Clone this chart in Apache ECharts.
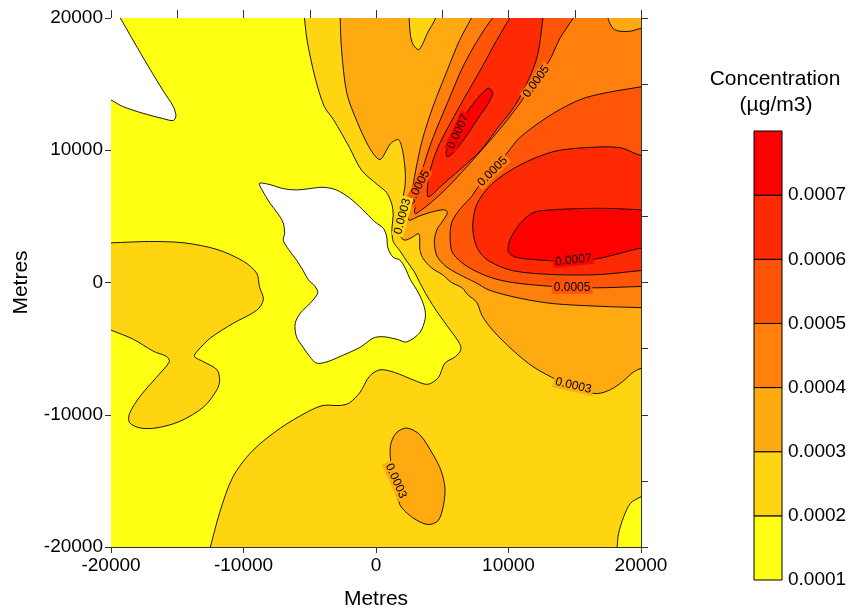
<!DOCTYPE html>
<html>
<head>
<meta charset="utf-8">
<script src="https://cdn.jsdelivr.net/npm/echarts@6/dist/echarts.min.js"></script>
<style>html,body{margin:0;padding:0;background:#fff}#c{width:853px;height:615px}</style>
</head>
<body>
<div id="c"></div>
<script>
// ---------- DATA ----------
// contour levels (µg/m3)
const levels = [0.0001, 0.0002, 0.0003, 0.0004, 0.0005, 0.0006, 0.0007, 0.0008];
const levelLabels = ['0.0001', '0.0002', '0.0003', '0.0004', '0.0005', '0.0006', '0.0007'];
const axisTicks = [-20000, -10000, 0, 10000, 20000];

// contour regions (vertices in metres)
// whole domain (>= 0.0001)
const domainAll = [[-21000,21000],[21000,21000],[21000,-21000],[-21000,-21000]];
// < 0.0001
const whiteTopLeft = [[-21000,21500],[-20000,21200],[-19300,20000],[-17600,17050],[-16100,14550],[-15300,13300],[-15100,12600],[-15300,12250],[-16100,12400],[-17600,12800],[-19100,13300],[-20000,13800],[-21000,14200]];
const whiteBlob = [[-8800,7500],[-8000,7400],[-7000,7100],[-6000,7000],[-5000,7100],[-4000,7200],[-3000,7000],[-2000,6400],[-1000,5500],[-100,4600],[550,4100],[800,3500],[900,2600],[1300,1900],[1800,1700],[2200,1100],[2600,200],[3100,-600],[3450,-1300],[3700,-2100],[3700,-2800],[3300,-3800],[2300,-4500],[1600,-4300],[550,-4100],[-200,-4200],[-1200,-4900],[-2500,-5500],[-3700,-6000],[-4500,-6100],[-5000,-5600],[-5500,-4900],[-6000,-4100],[-6100,-3100],[-5700,-2300],[-5000,-1600],[-4400,-800],[-4600,-300],[-5100,200],[-5500,900],[-6000,1700],[-6600,2500],[-7000,3200],[-6900,3700],[-7000,4500],[-7400,5200],[-8000,6000],[-8600,7000]];
// >= 0.0002
const l2Left = [[-21000,3000],[-20000,3000],[-17100,3100],[-14500,3000],[-12000,2500],[-10000,1600],[-9000,700],[-8800,-300],[-8500,-1300],[-9000,-2100],[-10800,-3100],[-12500,-4200],[-13500,-5200],[-13700,-5600],[-13000,-6000],[-12000,-6600],[-11800,-7400],[-12000,-8100],[-13000,-9400],[-14800,-10500],[-16600,-11000],[-17800,-11000],[-18600,-10600],[-18600,-9900],[-17800,-8600],[-16600,-7200],[-15600,-6000],[-15800,-5600],[-16800,-5200],[-18300,-4300],[-20000,-3600],[-21000,-3200]];
const l2Main = [[-5500,21000],[21000,21000],[21000,-15800],[20000,-16200],[19200,-16700],[18700,-17700],[18300,-19000],[18200,-20000],[18100,-21000],[-12800,-21000],[-12500,-20000],[-11800,-17400],[-10800,-14700],[-9300,-12700],[-7200,-11000],[-5200,-9800],[-4000,-9300],[-2700,-9300],[-2000,-9100],[-1200,-8300],[-500,-7100],[300,-6600],[1400,-6800],[2900,-7400],[3900,-7700],[4700,-7200],[5200,-6100],[6000,-5600],[6400,-5100],[6300,-4600],[5600,-3600],[4600,-2200],[3900,-1100],[3300,0],[2900,800],[2400,1500],[1800,2400],[1300,3100],[1200,4100],[1300,5100],[1200,5900],[800,6800],[100,7400],[-1100,8500],[-2000,10200],[-3200,12300],[-3900,13300],[-4600,15500],[-5200,18300],[-5400,20000]];
// >= 0.0003
const l3Main = [[-2700,21000],[2450,21000],[2500,20000],[2600,18700],[2800,18000],[3200,17600],[3500,18000],[3900,18900],[4500,20000],[4600,21000],[21000,21000],[21000,-6400],[20000,-6500],[19400,-6800],[18600,-7500],[17700,-8100],[16700,-8400],[15000,-8100],[13700,-7400],[11900,-6400],[10300,-5100],[8800,-3600],[8000,-2500],[7600,-1500],[6900,-900],[6500,-400],[5700,0],[5000,600],[4200,1100],[3500,1900],[3300,2600],[3300,3400],[3200,3700],[2700,3400],[2200,3200],[1900,3400],[1800,4300],[1900,5500],[2000,6200],[2200,7400],[2200,8500],[2000,10000],[1700,10800],[1100,10500],[300,9300],[-500,10200],[-1400,12100],[-2200,14300],[-2600,17600],[-2700,20000]];
const l3Ellipse = [[2300,-11000],[1500,-11400],[1100,-12300],[1100,-13400],[1400,-14900],[1800,-16800],[2800,-17800],[3900,-18300],[4700,-18000],[5100,-16800],[5200,-15500],[4900,-14200],[4300,-13000],[3300,-11500]];
// >= 0.0004
const l4Main = [[7700,21000],[7200,20000],[6300,18300],[5400,16100],[4300,13300],[3500,10800],[3000,8500],[2600,6200],[2400,5100],[2500,4700],[3200,5000],[4100,5300],[5100,5500],[5400,5300],[5000,4600],[4600,4000],[4400,3100],[4600,2000],[5300,1200],[6300,600],[7500,0],[8600,-600],[10900,-1200],[13400,-1600],[16900,-1800],[20000,-1900],[21000,-1900],[21000,19000],[20000,19200],[19200,19000],[18400,19000],[17900,19200],[17500,20000],[17400,21000]];
// >= 0.0005
const l5Upper = [[9600,21000],[8800,20000],[7900,18700],[6600,16400],[5400,13600],[4600,11700],[4100,10400],[3500,8500],[3100,6600],[2900,5300],[3000,5200],[4100,6000],[5400,7200],[6900,8800],[8400,10500],[9600,11900],[10900,13600],[12000,15200],[13100,16800],[13900,18500],[14900,20000],[15500,21000]];
const l5Right = [[21000,14900],[20000,14800],[15900,14000],[13400,12800],[10900,11000],[9900,9800],[8800,8400],[7600,7100],[7300,6600],[6300,5500],[5700,4500],[5600,3200],[5800,2200],[6900,1200],[8600,400],[10300,0],[13400,-300],[16700,-400],[20000,-300],[21000,-300]];
// >= 0.0006
const l6Upper = [[10700,21000],[10100,20000],[9100,18300],[7900,16100],[6300,13300],[4800,10500],[4200,8900],[3900,7400],[3900,6500],[4200,6600],[4800,7200],[6300,8500],[7900,10000],[9200,11700],[10500,13400],[11500,15300],[12200,17200],[12600,20000],[12750,21000]];
const l6Right = [[21000,9600],[20000,9600],[18400,10200],[15900,10200],[13400,9900],[10900,8900],[8800,7500],[7600,5900],[7300,4200],[7600,2700],[8400,1700],[10300,900],[13400,600],[16900,600],[20000,900],[21000,900]];
// >= 0.0007
const l7Upper = [[8500,14700],[8800,14300],[8400,13400],[7900,12700],[6900,11200],[6000,10000],[5400,9500],[5300,9900],[5700,10900],[6300,11900],[7100,13200],[7900,14200]];
const l7Right = [[21000,5500],[20000,5500],[17700,5600],[15900,5600],[13400,5500],[11900,5300],[10900,4500],[10100,3200],[10000,2300],[10600,1900],[12400,1700],[14600,1600],[16700,1800],[18400,2200],[20000,2600],[21000,2600]];

// contour labels: x, y (metres), text, angle (deg), band index of label background
const labelX = [6200, 12100, 3200, 2000, 8800, 14900, 14800, 14900, 1500];
const labelY = [11400, 15200, 7200, 5000, 8400, 1700, -400, -7800, -15000];
const labelText = ['0.0007', '0.0005', '0.0005', '0.0003', '0.0005', '0.0007', '0.0005', '0.0003', '0.0003'];
const labelAngle = [65, 54, 63, 75, 45, 6, 0, -13, -66];
const labelBand = [6, 3, 4, 1, 3, 6, 4, 2, 2];

// ---------- STYLE ----------
const bandColors = ['#FFFF14', '#FFD512', '#FFAA10', '#FF800C', '#FF5508', '#FF2A04', '#FF0000'];
const FONT = 'Liberation Sans, Arial, Helvetica, sans-serif';

// painting order: band index (-1 = below lowest level -> white)
const paintList = [
  {poly: domainAll, band: 0, stroke: false},
  {poly: whiteTopLeft, band: -1, stroke: true},
  {poly: whiteBlob, band: -1, stroke: true},
  {poly: l2Left, band: 1, stroke: true},
  {poly: l2Main, band: 1, stroke: true},
  {poly: l3Main, band: 2, stroke: true},
  {poly: l3Ellipse, band: 2, stroke: true},
  {poly: l4Main, band: 3, stroke: true},
  {poly: l5Upper, band: 4, stroke: true},
  {poly: l5Right, band: 4, stroke: true},
  {poly: l6Upper, band: 5, stroke: true},
  {poly: l6Right, band: 5, stroke: true},
  {poly: l7Upper, band: 6, stroke: true},
  {poly: l7Right, band: 6, stroke: true}
];

const chart = echarts.init(document.getElementById('c'), null, {renderer: 'canvas'});

const axisCol = '#333';
const plain = function (v) { return String(v); };
const option = {
  animation: false,
  backgroundColor: '#fff',
  textStyle: {fontFamily: FONT},
  grid: [
    {left: 111, top: 18, width: 530, height: 529},
    {left: 754, top: 131, width: 28, height: 449}
  ],
  xAxis: [
    {gridIndex: 0, type: 'value', min: axisTicks[0], max: axisTicks[axisTicks.length-1], interval: 10000, position: 'bottom',
     axisLine: {show: true, onZero: false, lineStyle: {color: axisCol, width: 1}},
     axisTick: {show: true, length: 6, lineStyle: {color: axisCol}},
     axisLabel: {fontSize: 19, color: '#000', margin: 9, fontFamily: FONT, formatter: plain},
     splitLine: {show: false},
     name: 'Metres', nameLocation: 'middle', nameGap: 42,
     nameTextStyle: {fontSize: 21, color: '#000', fontFamily: FONT}},
    {gridIndex: 0, type: 'value', min: -20000, max: 20000, interval: 5000, position: 'top',
     axisLine: {show: true, onZero: false, lineStyle: {color: axisCol, width: 1}},
     axisTick: {show: true, length: 8, lineStyle: {color: axisCol}},
     axisLabel: {show: false}, splitLine: {show: false}},
    {gridIndex: 1, type: 'value', min: 0, max: 1, show: false}
  ],
  yAxis: [
    {gridIndex: 0, type: 'value', min: axisTicks[0], max: axisTicks[axisTicks.length-1], interval: 10000, position: 'left',
     axisLine: {show: true, onZero: false, lineStyle: {color: axisCol, width: 1}},
     axisTick: {show: true, length: 6, lineStyle: {color: axisCol}},
     axisLabel: {fontSize: 19, color: '#000', margin: 8, fontFamily: FONT, formatter: plain},
     splitLine: {show: false},
     name: 'Metres', nameLocation: 'middle', nameGap: 79, nameRotate: 90,
     nameTextStyle: {fontSize: 21, color: '#000', fontFamily: FONT}},
    {gridIndex: 0, type: 'value', min: -20000, max: 20000, interval: 5000, position: 'right',
     axisLine: {show: true, onZero: false, lineStyle: {color: axisCol, width: 1}},
     axisTick: {show: true, length: 7, lineStyle: {color: axisCol}},
     axisLabel: {show: false}, splitLine: {show: false}},
    {gridIndex: 1, type: 'value', min: levels[0], max: levels[levels.length-1], interval: 0.0001, position: 'right',
     axisLine: {show: false}, axisTick: {show: false}, splitLine: {show: false},
     axisLabel: {fontSize: 19, color: '#000', margin: 6, fontFamily: FONT,
       formatter: function (v) {
         const i = Math.round(v / 0.0001) - 1;
         return (i >= 0 && i < levelLabels.length) ? levelLabels[i] : '';
       }}}
  ],
  graphic: [
    {type: 'text', style: {text: 'Concentration', x: 775, y: 79, fill: '#000', font: '21px ' + FONT, align: 'center', verticalAlign: 'middle'}},
    {type: 'text', style: {text: '(µg/m3)', x: 776, y: 105, fill: '#000', font: '21px ' + FONT, align: 'center', verticalAlign: 'middle'}}
  ],
  series: [
    {
      type: 'custom', name: 'contours', xAxisIndex: 0, yAxisIndex: 0, clip: true,
      data: paintList.map((p, i) => [0, 0, i]),
      encode: {x: 0, y: 1},
      renderItem: function (params, api) {
        const r = paintList[params.dataIndex];
        const pts = r.poly.map(p => api.coord(p));
        return {
          type: 'polygon',
          shape: {points: pts, smooth: 0.3},
          style: {fill: r.band < 0 ? '#FFFFFF' : bandColors[r.band], stroke: r.stroke ? '#000' : null, lineWidth: 0.9}
        };
      },
      z: 1
    },
    {
      type: 'custom', name: 'labels', xAxisIndex: 0, yAxisIndex: 0, clip: true,
      data: labelX.map((x, i) => [x, labelY[i], i]),
      encode: {x: 0, y: 1},
      renderItem: function (params, api) {
        const i = params.dataIndex;
        const p = api.coord([labelX[i], labelY[i]]);
        return {
          type: 'text', x: p[0], y: p[1], rotation: labelAngle[i] * Math.PI / 180,
          style: {text: labelText[i], x: 0, y: 0, fill: '#000', font: '12px ' + FONT, align: 'center', verticalAlign: 'middle',
                  backgroundColor: bandColors[labelBand[i]], padding: [0, 2]}
        };
      },
      z: 3
    },
    {
      type: 'custom', name: 'colorbar', xAxisIndex: 2, yAxisIndex: 2,
      data: levels.slice(0, -1).map((lo, i) => [lo, levels[i+1], i]),
      renderItem: function (params, api) {
        const i = params.dataIndex;
        const lo = levels[i], hi = levels[i+1];
        const p0 = api.coord([0, lo]);
        const p1 = api.coord([1, hi]);
        return {
          type: 'rect',
          shape: {x: p0[0], y: p1[1], width: p1[0] - p0[0], height: p0[1] - p1[1]},
          style: {fill: bandColors[i], stroke: '#000', lineWidth: 1}
        };
      },
      z: 2
    }
  ]
};
chart.setOption(option);
</script>
</body>
</html>
